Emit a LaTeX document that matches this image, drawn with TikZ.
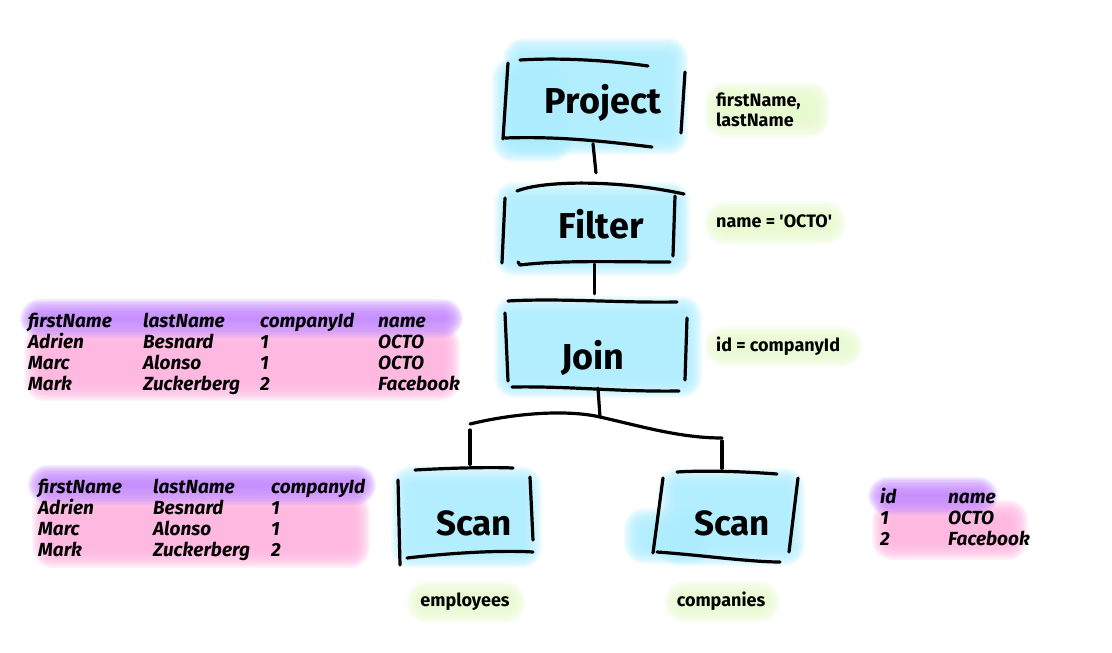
\documentclass[tikz,border=0pt]{standalone}
\usepackage{fontspec}
\setmainfont{Fira Sans}
\definecolor{skyfill}{RGB}{172,236,255}
\definecolor{leaf}{RGB}{230,249,204}
\definecolor{lilac}{RGB}{194,132,255}
\definecolor{rose}{RGB}{255,178,222}
% soft marker blob: colour, x1, y1, x2, y2 (stacked translucent layers)
\newcommand\haze[5]{%
  \foreach \k [evaluate=\k as \r using 4+0.9*\k] in {0,1.5,...,18}{%
    \fill[#1,opacity=0.17,rounded corners=\r pt]
      ({#2+6-\k},{#3+6-\k}) rectangle ({#4-6+\k},{#5-6+\k});}}
\begin{document}
\begin{tikzpicture}[x=1pt,y=-1pt,
  pen/.style={line width=3.2pt,line cap=round,line join=round,black},
  opbox/.style={draw=none,inner sep=0pt},
  oplabel/.style={font=\fontsize{36}{38}\selectfont\bfseries,inner sep=0pt,anchor=base},
  note/.style={font=\fontsize{18}{21}\selectfont\bfseries,inner sep=0pt,anchor=base west},
  tbl/.style={font=\fontsize{19}{21}\selectfont\bfseries\itshape,inner sep=0pt,anchor=base west},
]
\useasboundingbox (0,0) rectangle (1112,653);
\setlength\tabcolsep{0pt}

% ---- marker colour behind the operators
\haze{skyfill}{515}{50}{676}{143}
\haze{skyfill}{504}{70}{560}{150}
\haze{skyfill}{506}{194}{678}{264}
\haze{skyfill}{506}{308}{690}{386}
\haze{skyfill}{403}{478}{530}{556}
\haze{skyfill}{670}{480}{793}{554}
\haze{skyfill}{636}{520}{700}{552}

% ---- marker colour behind the notes
\haze{leaf}{716}{94}{818}{126}
\haze{leaf}{716}{213}{834}{233}
\haze{leaf}{716}{338}{851}{355}
\haze{leaf}{418}{593}{514}{611}
\haze{leaf}{676}{593}{768}{611}

% ---- marker colour behind the tables
\haze{rose}{36}{337}{448}{389}
\haze{lilac}{32}{311}{451}{326}
\haze{rose}{44}{504}{358}{556}
\haze{lilac}{40}{477}{364}{493}
\haze{rose}{884}{512}{1016}{548}
\haze{lilac}{880}{489}{986}{503}

% ---- operators
\node[opbox,minimum width=182pt,minimum height=84pt] (project) at (594,101.5) {};
\node[opbox,minimum width=171pt,minimum height=81pt] (filter) at (588.5,223.5) {};
\node[opbox,minimum width=180pt,minimum height=86pt] (join) at (596,345) {};
\node[opbox,minimum width=132pt,minimum height=88pt] (scanA) at (466,512.5) {};
\node[opbox,minimum width=136pt,minimum height=84pt] (scanB) at (727,514.5) {};

\node[oplabel] (projectlabel) at (603,113) {Project};
\node[oplabel] (filterlabel) at (601,238) {Filter};
\node[oplabel] (joinlabel) at (593,369) {Join};
\node[oplabel,font=\fontsize{35}{37}\selectfont\bfseries] (scanAlabel) at (474,535) {Scan};
\node[oplabel,font=\fontsize{35}{37}\selectfont\bfseries] (scanBlabel) at (732,535) {Scan};

% hand-drawn outlines
\draw[pen] (520,60) .. controls (570,57) and (620,62) .. (648,66);
\draw[pen] (508,63) -- (503,139);
\draw[pen] (685,72) -- (681,133);
\draw[pen] (505,138) .. controls (560,136) and (610,142) .. (652,147);

\draw[pen] (517,191) .. controls (545,180) and (620,180) .. (684,194);
\draw[pen] (505,198) -- (502,263);
\draw[pen] (675,196) -- (673,256);
\draw[pen] (518,262) -- (520,265) .. controls (560,260) and (620,262) .. (670,262);

\draw[pen] (508,301) .. controls (560,298) and (620,303) .. (677,302);
\draw[pen] (505,313) -- (508,381);
\draw[pen] (687,318) -- (685,380);
\draw[pen] (512,387) .. controls (570,386) and (620,392) .. (679,391);

\draw[pen] (415,470) .. controls (450,468) and (490,467) .. (513,468);
\draw[pen] (398,480) -- (400,565);
\draw[pen] (530,477) -- (533,540);
\draw[pen] (407,558) .. controls (450,553) and (500,550) .. (533,552);

\draw[pen] (677,472) .. controls (710,470) and (750,472) .. (777,474);
\draw[pen] (663,478) -- (653,553);
\draw[pen] (798,478) -- (789,552);
\draw[pen] (657,552) .. controls (700,555) and (750,562) .. (780,562);

% ---- connectors
\coordinate (branch) at (600,417);
\coordinate (branchL) at (470,424);
\coordinate (branchR) at (722,438);
\draw[pen,shorten >=10pt] ([xshift=-1pt]project.south) -- ([xshift=3pt]project.south |- filter.north);
\draw[pen,shorten >=8pt] ([xshift=6pt]filter.south) -- ([xshift=6pt]filter.south |- join.north);
\draw[pen] ([xshift=2pt]join.south) -- (branch);
\draw[pen] (branchL) .. controls (520,412) and (570,410) .. (branch)
  .. controls (640,426) and (680,438) .. (branchR);
\draw[pen,shorten <=6pt,shorten >=4pt] (branchL) -- (scanA.north -| branchL);
\draw[pen,shorten <=3pt,shorten >=4pt] (branchR) -- (scanB.north -| branchR);

% ---- notes
\node[note] (projnote) at (716,106) {\begin{tabular}[t]{@{}l@{}}firstName,\\[-1pt]lastName\end{tabular}};
\node[note] (filtnote) at (716,227) {name = \textquotesingle OCTO\textquotesingle};
\node[note] (joinnote) at (716,351) {id = companyId};
\node[note,anchor=base] (empnote) at (465,606) {employees};
\node[note,anchor=base] (compnote) at (721,606) {companies};

% ---- tables
\node[tbl] (joined) at (28,327) {\begin{tabular}[t]{p{115pt}p{117pt}p{118pt}l}
firstName & lastName & companyId & name\\
Adrien & Besnard & 1 & OCTO\\
Marc & Alonso & 1 & OCTO\\
Mark & Zuckerberg & 2 & Facebook
\end{tabular}};
\node[tbl] (employees) at (38,493) {\begin{tabular}[t]{p{115pt}p{118pt}l}
firstName & lastName & companyId\\
Adrien & Besnard & 1\\
Marc & Alonso & 1\\
Mark & Zuckerberg & 2
\end{tabular}};
\node[tbl] (companies) at (880,503) {\begin{tabular}[t]{p{68pt}l}
id & name\\
1 & OCTO\\
2 & Facebook
\end{tabular}};
\end{tikzpicture}
\end{document}
